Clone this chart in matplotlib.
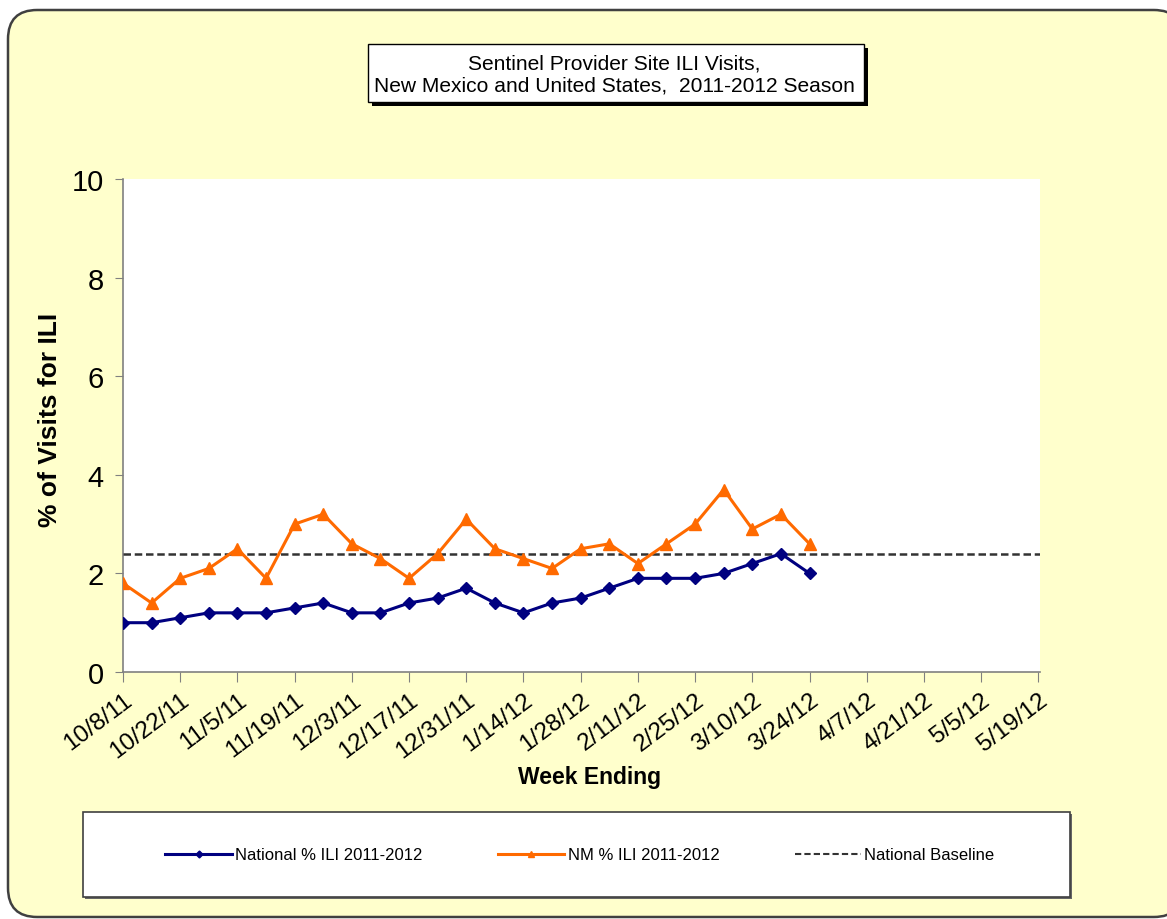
import pandas as pd
import matplotlib.pyplot as plt
from matplotlib.patches import FancyBboxPatch, Rectangle
from matplotlib.lines import Line2D

# week ending dates (every week of the season) and tick labels (every 2 weeks)
weeks = pd.date_range('2011-10-08', '2012-05-19', freq='7D')
tick_labels = ['10/8/11', '10/22/11', '11/5/11', '11/19/11', '12/3/11', '12/17/11',
               '12/31/11', '1/14/12', '1/28/12', '2/11/12', '2/25/12', '3/10/12',
               '3/24/12', '4/7/12', '4/21/12', '5/5/12', '5/19/12']

national = [1.0, 1.0, 1.1, 1.2, 1.2, 1.2, 1.3, 1.4, 1.2, 1.2, 1.4, 1.5, 1.7,
            1.4, 1.2, 1.4, 1.5, 1.7, 1.9, 1.9, 1.9, 2.0, 2.2, 2.4, 2.0]
nm = [1.8, 1.4, 1.9, 2.1, 2.5, 1.9, 3.0, 3.2, 2.6, 2.3, 1.9, 2.4, 3.1,
      2.5, 2.3, 2.1, 2.5, 2.6, 2.2, 2.6, 3.0, 3.7, 2.9, 3.2, 2.6]
baseline = 2.4

plt.rcParams['font.family'] = ['Liberation Sans', 'DejaVu Sans']

W, H = 1167, 920
fig = plt.figure(figsize=(W / 100, H / 100), dpi=100)
fig.patch.set_facecolor('white')

def px(x, y):
    return x / W, 1 - y / H

# rounded yellow background frame
frame = FancyBboxPatch((8 / W, 2 / H), 1175 / W, 907 / H,
                       boxstyle='round,pad=0,rounding_size=0.025',
                       transform=fig.transFigure, facecolor='#FFFFCC',
                       edgecolor='#404040', linewidth=1.8, zorder=0,
                       mutation_aspect=W / H)
fig.patches.append(frame)

# title box with shadow
fig.patches.append(Rectangle(px(372, 107), 496 / W, 58 / H, transform=fig.transFigure,
                             facecolor='black', edgecolor='none', zorder=1))
fig.patches.append(Rectangle(px(368, 103), 496 / W, 58 / H, transform=fig.transFigure,
                             facecolor='white', edgecolor='black', linewidth=1, zorder=2))
fig.text(*px(614, 75), 'Sentinel Provider Site ILI Visits,\nNew Mexico and United States,  2011-2012 Season',
         ha='center', va='center', fontsize=15.1, linespacing=1.2, zorder=3)

# legend box
fig.patches.append(Rectangle(px(85, 900), 987 / W, 85 / H, transform=fig.transFigure,
                             facecolor='#666666', edgecolor='none', zorder=1))
fig.patches.append(Rectangle(px(83, 898), 987 / W, 85 / H, transform=fig.transFigure,
                             facecolor='white', edgecolor='#404040', linewidth=1.2, zorder=2))

l, b = px(123, 673)
r, t = px(1040, 180)
ax = fig.add_axes([l, b, r - l, t - b])
ax.set_zorder(3)
ax.set_facecolor('white')

x = weeks[:len(national)]
ax.plot(x, national, color='#000080', linewidth=2.2, marker='D', markersize=6.5,
        label='National % ILI 2011-2012', zorder=4)
ax.plot(x, nm, color='#FF6A00', linewidth=2.2, marker='^', markersize=8.5,
        label='NM % ILI 2011-2012', zorder=4)
ax.axhline(baseline, color='#333333', linestyle=(0, (3, 1.5)), linewidth=1.8,
           label='National Baseline', zorder=3)

ax.set_xlim(weeks[0], weeks[-1] + pd.Timedelta(days=0.4))
ax.set_ylim(0, 10)
ax.set_yticks([0, 2, 4, 6, 8, 10])
ax.set_xticks(weeks[::2])
ax.set_xticklabels(tick_labels, rotation=37, ha='right', va='top',
                   rotation_mode='anchor', fontsize=17.5)
ax.tick_params(axis='y', labelsize=21, length=6, color='#808080', pad=8)
ax.tick_params(axis='x', length=7, color='#808080', pad=5)

for s in ['top', 'right']:
    ax.spines[s].set_visible(False)
for s in ['left', 'bottom']:
    ax.spines[s].set_color('#808080')
    ax.spines[s].set_linewidth(1.2)

fig.text(*px(590, 778), 'Week Ending', ha='center', va='center',
         fontsize=16.5, fontweight='bold')
fig.text(*px(50, 420), '% of Visits for ILI', ha='center', va='center',
         rotation=90, fontsize=19, fontweight='bold')

handles = [Line2D([], [], color='#000080', linewidth=2.2, marker='D', markersize=3.5),
           Line2D([], [], color='#FF6A00', linewidth=2.2, marker='^', markersize=5),
           Line2D([], [], color='#333333', linestyle=(0, (3, 1.5)), linewidth=1.5)]
labels = ['National % ILI 2011-2012', 'NM % ILI 2011-2012', 'National Baseline']
leg = fig.legend(handles, labels, loc='center', bbox_to_anchor=px(580, 856),
                 ncol=3, frameon=False, handlelength=4.0, columnspacing=4.5,
                 handletextpad=0.2, prop={'size': 12})
leg.set_zorder(5)

fig.savefig('out.png', dpi=100)
